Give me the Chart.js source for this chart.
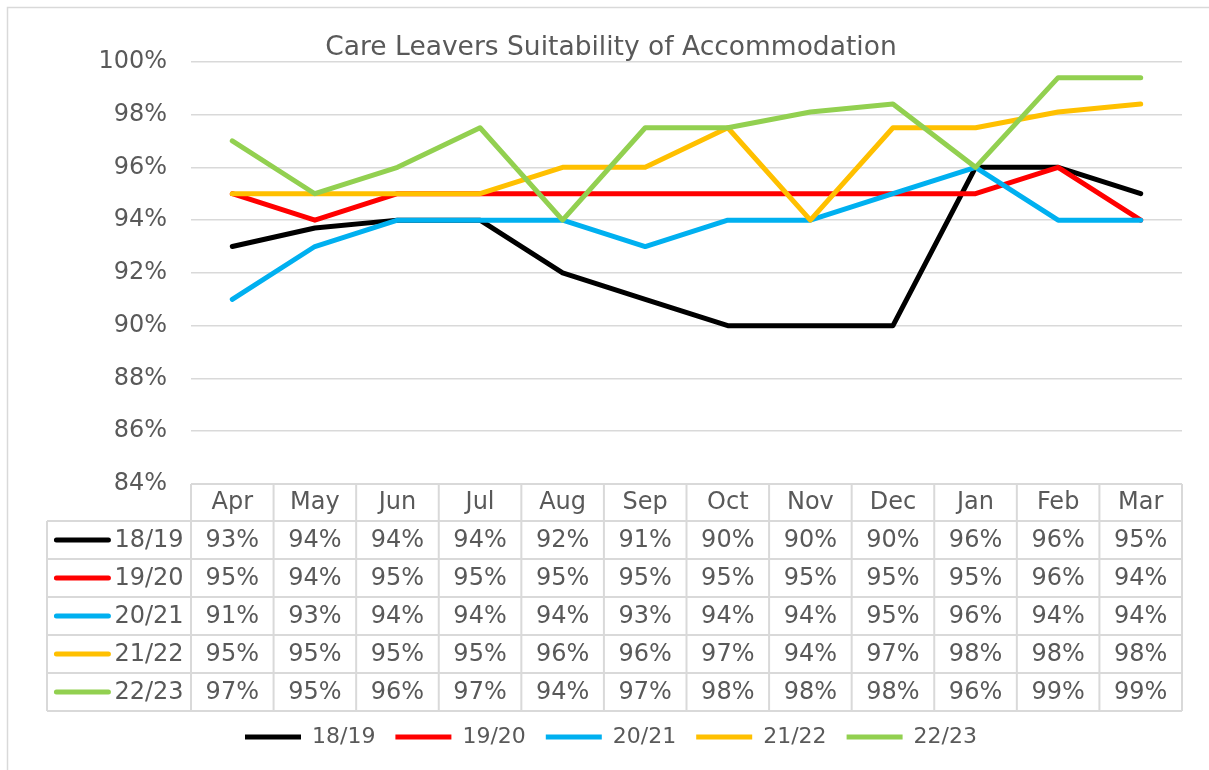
<!DOCTYPE html>
<html>
<head>
<meta charset="utf-8">
<title>Care Leavers Suitability of Accommodation</title>
<script src="https://cdn.jsdelivr.net/npm/chart.js@4.4.1/dist/chart.umd.min.js"></script>
<style>
  html, body { margin: 0; padding: 0; background: #fff; }
  #wrap { width: 1209px; height: 770px; }
</style>
</head>
<body>
<div id="wrap"><canvas id="grafico" width="1209" height="770"></canvas></div>
<script>
// dados
const meses = ["Apr", "May", "Jun", "Jul", "Aug", "Sep", "Oct", "Nov", "Dec", "Jan", "Feb", "Mar"];
const anos = ["18/19", "19/20", "20/21", "21/22", "22/23"];
const cores = ["#000000", "#FF0000", "#00B0F0", "#FFC000", "#92D050"];

// valores das linhas (%)
const v1819 = [93, 93.7, 94, 94, 92, 91, 90, 90, 90, 96, 96, 95];
const v1920 = [95, 94, 95, 95, 95, 95, 95, 95, 95, 95, 96, 94];
const v2021 = [91, 93, 94, 94, 94, 93, 94, 94, 95, 96, 94, 94];
const v2122 = [95, 95, 95, 95, 96, 96, 97.5, 94, 97.5, 97.5, 98.1, 98.4];
const v2223 = [97, 95, 96, 97.5, 94, 97.5, 97.5, 98.1, 98.4, 96, 99.4, 99.4];

// valores da tabela (arredondados, como aparecem)
const t1819 = [93, 94, 94, 94, 92, 91, 90, 90, 90, 96, 96, 95];
const t1920 = [95, 94, 95, 95, 95, 95, 95, 95, 95, 95, 96, 94];
const t2021 = [91, 93, 94, 94, 94, 93, 94, 94, 95, 96, 94, 94];
const t2122 = [95, 95, 95, 95, 96, 96, 97, 94, 97, 98, 98, 98];
const t2223 = [97, 95, 96, 97, 94, 97, 98, 98, 98, 96, 99, 99];

const yMin = 84, yMax = 100, yStep = 2;

const valores = [v1819, v1920, v2021, v2122, v2223];
const tabela = [t1819, t1920, t2021, t2122, t2223];

const FONTE = "'DejaVu Sans', Verdana, sans-serif";
const COR_TEXTO = "#595959";
const COR_GRADE = "#D9D9D9";

const ALT_CAB = 37;   // altura da linha de cabeçalho
const ALT_LINHA = 38; // altura das linhas de dados
const X_TABELA = 47;  // borda esquerda da coluna de séries

const pluginTabela = {
  id: "tabelaDados",
  beforeDraw(chart) {
    const ctx = chart.ctx;
    ctx.save();
    ctx.fillStyle = "#fff";
    ctx.fillRect(0, 0, chart.width, chart.height);
    ctx.strokeStyle = COR_GRADE;
    ctx.lineWidth = 1.5;
    ctx.strokeRect(7.5, 7.5, chart.width + 20, chart.height + 20);
    ctx.restore();
  },
  afterDraw(chart) {
    const ctx = chart.ctx;
    const area = chart.chartArea;
    const x = chart.scales.x;
    const larg = area.width / meses.length;
    const topo = area.bottom;
    const yCab = topo + ALT_CAB;
    const fundo = yCab + ALT_LINHA * anos.length;

    ctx.save();
    ctx.strokeStyle = COR_GRADE;
    ctx.lineWidth = 2;
    ctx.beginPath();
    // linhas horizontais
    ctx.moveTo(area.left, topo); ctx.lineTo(area.right, topo);
    for (let r = 0; r <= anos.length; r++) {
      const y = yCab + r * ALT_LINHA;
      ctx.moveTo(X_TABELA, y); ctx.lineTo(area.right, y);
    }
    // linhas verticais
    for (let c = 0; c <= meses.length; c++) {
      const xx = area.left + c * larg;
      ctx.moveTo(xx, topo); ctx.lineTo(xx, fundo);
    }
    ctx.moveTo(X_TABELA, yCab); ctx.lineTo(X_TABELA, fundo);
    ctx.stroke();

    ctx.font = "24px " + FONTE;
    ctx.fillStyle = COR_TEXTO;
    ctx.textBaseline = "middle";

    tabela.forEach((linha, r) => {
      const yc = yCab + r * ALT_LINHA + ALT_LINHA / 2;
      // rótulo da série com a chave de cor
      const txt = anos[r];
      const wTxt = ctx.measureText(txt).width;
      const grupo = 56 + 4 + wTxt;
      const xIni = (X_TABELA + area.left) / 2 - grupo / 2;
      ctx.strokeStyle = cores[r];
      ctx.lineWidth = 5;
      ctx.lineCap = "round";
      ctx.beginPath();
      ctx.moveTo(xIni + 2, yc); ctx.lineTo(xIni + 54, yc);
      ctx.stroke();
      ctx.textAlign = "left";
      ctx.fillText(txt, xIni + 60, yc + 1);
      // valores
      ctx.textAlign = "center";
      linha.forEach((v, i) => {
        ctx.fillText(v + "%", x.getPixelForValue(i), yc + 1);
      });
    });
    ctx.restore();
  }
};

const datasets = anos.map((a, i) => ({
  label: a,
  data: valores[i],
  borderColor: cores[i],
  backgroundColor: cores[i],
  borderWidth: 5,
  borderCapStyle: "round",
  borderJoinStyle: "round",
  pointRadius: 0,
  tension: 0,
  order: anos.length - i
}));

new Chart(document.getElementById("grafico"), {
  type: "line",
  data: { labels: meses, datasets },
  plugins: [pluginTabela],
  options: {
    responsive: false,
    animation: false,
    layout: { padding: { left: 40, right: 27, top: 0, bottom: 12 } },
    plugins: {
      tooltip: { enabled: false },
      title: {
        display: true,
        text: "Care Leavers Suitability of Accommodation",
        color: COR_TEXTO,
        font: { family: FONTE, size: 26.5, weight: "normal" },
        padding: { top: 32, bottom: -2 }
      },
      legend: {
        position: "bottom",
        labels: {
          usePointStyle: true,
          pointStyle: "line",
          pointStyleWidth: 56,
          boxHeight: 22,
          padding: 20,
          color: COR_TEXTO,
          font: { family: FONTE, size: 22 },
          sort: (a, b) => a.datasetIndex - b.datasetIndex
        }
      }
    },
    scales: {
      x: {
        offset: true,
        grid: { display: false, drawTicks: false },
        border: { display: false },
        ticks: { color: COR_TEXTO, font: { family: FONTE, size: 24 }, padding: 4, maxRotation: 0 },
        afterFit(scale) { scale.height = 222; }
      },
      y: {
        min: yMin,
        max: yMax,
        grid: { color: COR_GRADE, lineWidth: 1.5, drawTicks: false },
        border: { display: false },
        ticks: {
          stepSize: yStep,
          color: COR_TEXTO,
          font: { family: FONTE, size: 24 },
          padding: 24,
          callback: v => v + "%"
        },
        afterFit(scale) { scale.width = 151; }
      }
    }
  }
});
</script>
</body>
</html>
